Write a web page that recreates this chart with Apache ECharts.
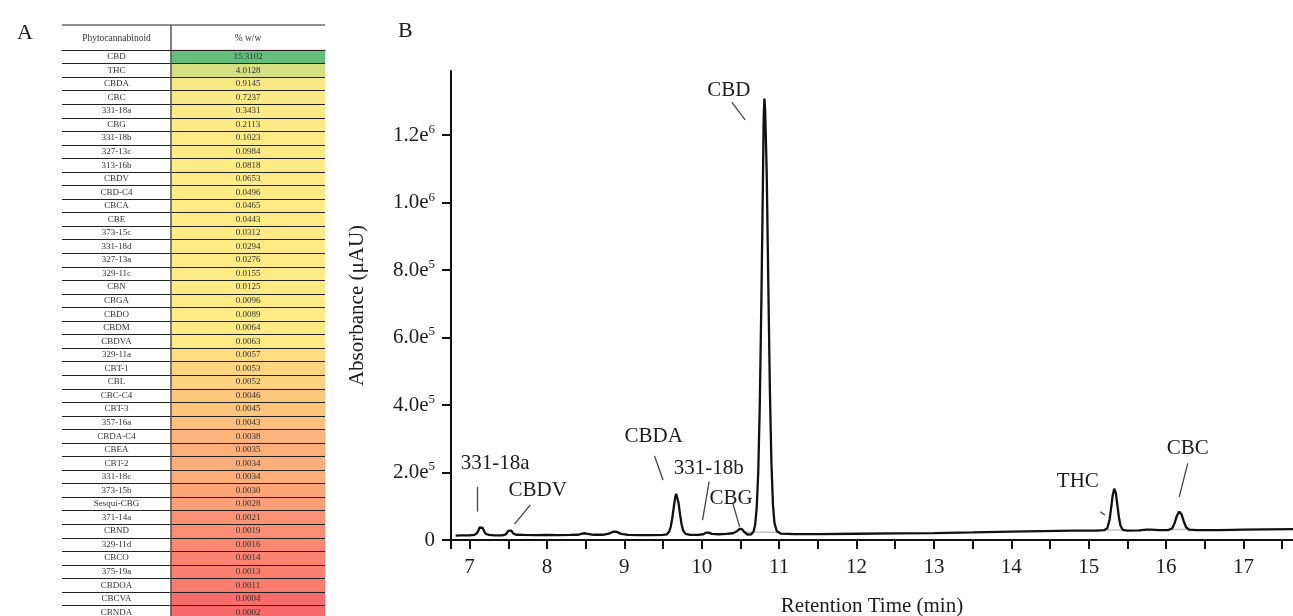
<!DOCTYPE html>
<html>
<head>
<meta charset="utf-8">
<script src="https://cdn.jsdelivr.net/npm/echarts@6/dist/echarts.min.js"></script>
<style>
html, body { margin: 0; padding: 0; background: #fff; }
#main { width: 1293px; height: 616px; }
</style>
</head>
<body>
<div id="main"></div>
<script>
// panel A: table of phytocannabinoids and % w/w
var cannabinoids = ['CBD', 'THC', 'CBDA', 'CBC', '331-18a', 'CBG', '331-18b', '327-13c', '313-16b', 'CBDV',
    'CBD-C4', 'CBCA', 'CBE', '373-15c', '331-18d', '327-13a', '329-11c', 'CBN', 'CBGA', 'CBDO',
    'CBDM', 'CBDVA', '329-11a', 'CBT-1', 'CBL', 'CBC-C4', 'CBT-3', '357-16a', 'CBDA-C4', 'CBEA',
    'CBT-2', '331-18c', '373-15b', 'Sesqui-CBG', '371-14a', 'CBND', '329-11d', 'CBCO', '375-19a', 'CBDOA',
    'CBCVA', 'CBNDA'];
var wwPercent = [15.3102, 4.0128, 0.9145, 0.7237, 0.3431, 0.2113, 0.1023, 0.0984, 0.0818, 0.0653,
    0.0496, 0.0465, 0.0443, 0.0312, 0.0294, 0.0276, 0.0155, 0.0125, 0.0096, 0.0089,
    0.0064, 0.0063, 0.0057, 0.0053, 0.0052, 0.0046, 0.0045, 0.0043, 0.0038, 0.0035,
    0.0034, 0.0034, 0.0030, 0.0028, 0.0021, 0.0019, 0.0016, 0.0014, 0.0013, 0.0011,
    0.0004, 0.0002];
var tableHeader = ['Phytocannabinoid', '% w/w'];

// panel B: chromatogram
var retentionTime = [6.82, 6.90, 7.00, 7.06, 7.09, 7.11, 7.13, 7.15, 7.17, 7.19, 7.21, 7.25, 7.32,
    7.42, 7.47, 7.50, 7.52, 7.54, 7.56, 7.60, 7.70, 7.85, 8.00, 8.15, 8.30, 8.40, 8.45, 8.49, 8.53,
    8.60, 8.72, 8.80, 8.86, 8.90, 8.96, 9.05, 9.20, 9.35, 9.50, 9.55, 9.58, 9.60, 9.62, 9.64, 9.66,
    9.67, 9.68, 9.70, 9.72, 9.74, 9.76, 9.79, 9.85, 9.95, 10.02, 10.06, 10.09, 10.13, 10.22, 10.32,
    10.40, 10.45, 10.49, 10.52, 10.55, 10.59, 10.64, 10.67, 10.69, 10.71, 10.73, 10.75, 10.77, 10.79,
    10.80, 10.81, 10.82, 10.84, 10.86, 10.88, 10.90, 10.92, 10.94, 10.97, 11.02, 11.20, 11.50, 12.00,
    12.50, 13.00, 13.50, 14.00, 14.40, 14.80, 15.10, 15.20, 15.24, 15.27, 15.29, 15.31, 15.33, 15.35,
    15.37, 15.39, 15.41, 15.44, 15.50, 15.65, 15.75, 15.81, 15.90, 16.03, 16.08, 16.11, 16.14, 16.17,
    16.20, 16.23, 16.26, 16.30, 16.40, 16.70, 17.00, 17.30, 17.64];
var absorbance = [13000, 13500, 14000, 15000, 19000, 26000, 37000, 42000, 36000, 25000, 18000, 15000, 14000,
    14000, 17000, 27000, 32000, 28000, 20000, 15500, 15000, 14500, 15000, 14500, 15000, 15500, 18500, 20000, 18000,
    15500, 15500, 19000, 25000, 24000, 18000, 15000, 14500, 14500, 15000, 17000, 25000, 40000, 65000, 100000, 130000,
    137000, 134000, 110000, 75000, 46000, 28000, 18000, 15000, 15000, 17000, 22000, 22000, 18000, 17000, 18000,
    20000, 25000, 33000, 32000, 24000, 16000, 17000, 25000, 45000, 95000, 200000, 400000, 700000, 1050000,
    1250000, 1308000, 1270000, 1080000, 760000, 450000, 230000, 105000, 50000, 26000, 19000, 17500, 17500, 18500,
    19500, 20500, 22500, 25000, 26500, 27500, 28000, 29000, 35000, 60000, 95000, 132000, 152000, 140000,
    105000, 68000, 43000, 30000, 28000, 28500, 31000, 30500, 29000, 29500, 35000, 50000, 72000, 84000,
    76000, 54000, 37000, 30500, 29500, 29500, 30500, 31500, 32500];

// light grey integration baselines under the main peaks: [start time, end time, level]
var baselineStart = [10.53, 15.24, 16.00];
var baselineEnd = [10.98, 15.45, 16.33];
var baselineLevel = [23000, 30000, 31000];

var xMin = 6.76, xMax = 17.64;
var xTickValues = [7, 7.5, 8, 8.5, 9, 9.5, 10, 10.5, 11, 11.5, 12, 12.5, 13, 13.5, 14, 14.5, 15, 15.5, 16, 16.5, 17, 17.5];
var xLabelValues = [7, 8, 9, 10, 11, 12, 13, 14, 15, 16, 17];
var yTickValues = [0, 200000, 400000, 600000, 800000, 1000000, 1200000];

var serif = 'Liberation Serif';
var ink = '#1c1c1c';

// excel-like 3 colour scale: red (min) - yellow (median) - green (max)
function percentile50(arr) {
    var s = arr.slice().sort(function (a, b) { return a - b; });
    var pos = (s.length - 1) * 0.5, lo = Math.floor(pos);
    return s[lo] + (s[Math.ceil(pos)] - s[lo]) * (pos - lo);
}
var vMin = Math.min.apply(null, wwPercent), vMax = Math.max.apply(null, wwPercent), vMid = percentile50(wwPercent);
function mix(c1, c2, t) {
    var r = c1.map(function (c, i) { return Math.round(c + (c2[i] - c) * t); });
    return 'rgb(' + r.join(',') + ')';
}
function scaleColor(v) {
    var red = [248, 105, 107], yel = [255, 235, 132], grn = [99, 190, 123];
    if (v <= vMid) return mix(red, yel, (v - vMin) / (vMid - vMin));
    return mix(yel, grn, (v - vMid) / (vMax - vMid));
}

var nameCells = cannabinoids.map(function (c, i) { return { value: [0, i, 0], itemStyle: { color: '#fff' } }; });
var valueCells = wwPercent.map(function (v, i) { return { value: [0, i, v], itemStyle: { color: scaleColor(v) } }; });
var chromData = retentionTime.map(function (t, i) { return [t, absorbance[i]]; });
var baselineData = [];
baselineStart.forEach(function (t, i) {
    baselineData.push([t, baselineLevel[i]], [baselineEnd[i], baselineLevel[i]], '-');
});

var rowH = 13.55;
var tableH = rowH * cannabinoids.length;

function tableYAxis(grid, showLine) {
    return {
        gridIndex: grid, type: 'category', data: cannabinoids, inverse: true, z: 5,
        axisLine: { show: showLine, lineStyle: { color: '#555', width: 1.5 } },
        axisTick: { show: false }, axisLabel: { show: false, interval: 0 },
        splitLine: { show: true, interval: 0, lineStyle: { color: '#222', width: 1 } }
    };
}
function tableXAxis(grid, label) {
    return {
        gridIndex: grid, type: 'category', data: [label], position: 'top', z: 5,
        axisLine: { show: true, lineStyle: { color: '#222', width: 1 } },
        axisTick: { show: false },
        axisLabel: { fontSize: 9.5, margin: 7, color: '#333', fontFamily: serif },
        splitLine: { show: false }
    };
}

var myChart = echarts.init(document.getElementById('main'));
var option = {
    animation: false,
    backgroundColor: '#fff',
    title: [
        { text: 'A', left: 12, top: 17, textStyle: { fontSize: 22, fontWeight: 'normal', fontFamily: serif, color: ink } },
        { text: 'B', left: 393, top: 15, textStyle: { fontSize: 22, fontWeight: 'normal', fontFamily: serif, color: ink } }
    ],
    graphic: [
        { type: 'line', shape: { x1: 62, y1: 25, x2: 325, y2: 25 }, style: { stroke: '#222', lineWidth: 1 } },
        { type: 'line', shape: { x1: 171, y1: 25, x2: 171, y2: 50 }, style: { stroke: '#555', lineWidth: 1.5 } }
    ],
    grid: [
        { left: 62, top: 50, width: 109, height: tableH, outerBoundsMode: 'none' },
        { left: 171, top: 50, width: 154, height: tableH, outerBoundsMode: 'none' },
        { left: 451, top: 71, right: 0, bottom: 76, outerBoundsMode: 'none' }
    ],
    xAxis: [
        tableXAxis(0, tableHeader[0]),
        tableXAxis(1, tableHeader[1]),
        {
            gridIndex: 2, type: 'value', min: xMin, max: xMax,
            name: 'Retention Time (min)', nameLocation: 'middle', nameGap: 56,
            nameTextStyle: { fontSize: 21, fontFamily: serif, color: ink },
            axisLine: { show: true, onZero: false, lineStyle: { color: '#111', width: 2 } },
            axisTick: { show: true, length: 9, customValues: [xMin].concat(xTickValues), lineStyle: { color: '#111', width: 2 } },
            axisLabel: { customValues: xLabelValues, fontSize: 21, margin: 17, fontFamily: serif, color: ink },
            splitLine: { show: false }
        }
    ],
    yAxis: [
        tableYAxis(0, false),
        tableYAxis(1, true),
        {
            gridIndex: 2, type: 'value', min: 0, max: 1390000,
            name: 'Absorbance (μAU)', nameLocation: 'middle', nameGap: 83,
            nameTextStyle: { fontSize: 21, fontFamily: serif, color: ink },
            axisLine: { show: true, lineStyle: { color: '#111', width: 2 } },
            axisTick: { show: true, length: 9, customValues: yTickValues, lineStyle: { color: '#111', width: 2 } },
            axisLabel: {
                customValues: yTickValues, fontSize: 21, margin: 16, fontFamily: serif, color: ink,
                formatter: function (v) {
                    if (v === 0) return '0';
                    var e = Math.floor(Math.log10(v) + 1e-9);
                    var m = (v / Math.pow(10, e)).toFixed(1);
                    return '{b|' + m + 'e}{s|' + e + '}';
                },
                rich: {
                    b: { fontSize: 21, fontFamily: serif, color: ink, lineHeight: 24 },
                    s: { fontSize: 13, fontFamily: serif, color: ink, verticalAlign: 'top', lineHeight: 14 }
                }
            },
            splitLine: { show: false }
        }
    ],
    series: [
        {
            type: 'heatmap', xAxisIndex: 0, yAxisIndex: 0, data: nameCells,
            label: { show: true, fontSize: 9, fontFamily: serif, color: '#333',
                formatter: function (p) { return cannabinoids[p.value[1]]; } },
            emphasis: { disabled: true }
        },
        {
            type: 'heatmap', xAxisIndex: 1, yAxisIndex: 1, data: valueCells,
            label: { show: true, fontSize: 9, fontFamily: serif, color: '#333',
                formatter: function (p) { return p.value[2].toFixed(4); } },
            emphasis: { disabled: true }
        },
        {
            type: 'line', xAxisIndex: 2, yAxisIndex: 2, data: baselineData, z: 1,
            showSymbol: false, connectNulls: false, silent: true,
            lineStyle: { color: '#c4c4c4', width: 1.5 }
        },
        {
            type: 'line', xAxisIndex: 2, yAxisIndex: 2, data: chromData, z: 2,
            showSymbol: false, smooth: false,
            lineStyle: { color: '#111', width: 2.3 },
            markPoint: {
                symbol: 'circle', symbolSize: 1, silent: true,
                itemStyle: { color: 'rgba(0,0,0,0)' },
                label: { show: true, position: 'inside', formatter: '{b}', fontSize: 21, fontFamily: serif, color: ink },
                data: [
                    { name: '331-18a', coord: [7.33, 228000] },
                    { name: 'CBDV', coord: [7.88, 148000] },
                    { name: 'CBDA', coord: [9.38, 308000] },
                    { name: '331-18b', coord: [10.09, 213000] },
                    { name: 'CBG', coord: [10.38, 124000] },
                    { name: 'CBD', coord: [10.35, 1331000] },
                    { name: 'THC', coord: [14.86, 173000] },
                    { name: 'CBC', coord: [16.28, 272000] }
                ]
            },
            markLine: {
                symbol: ['none', 'none'], silent: true,
                label: { show: false },
                lineStyle: { color: '#444', width: 1.3, type: 'solid' },
                data: [
                    [{ coord: [7.10, 158000] }, { coord: [7.10, 84000] }],
                    [{ coord: [7.785, 104000] }, { coord: [7.58, 47000] }],
                    [{ coord: [9.39, 249000] }, { coord: [9.50, 178000] }],
                    [{ coord: [10.095, 173000] }, { coord: [10.01, 59000] }],
                    [{ coord: [10.40, 110000] }, { coord: [10.49, 39000] }],
                    [{ coord: [10.39, 1297000] }, { coord: [10.56, 1245000] }],
                    [{ coord: [15.15, 84000] }, { coord: [15.21, 74000] }],
                    [{ coord: [16.28, 227000] }, { coord: [16.17, 128000] }]
                ]
            }
        }
    ]
};
myChart.setOption(option, true);
</script>
</body>
</html>
